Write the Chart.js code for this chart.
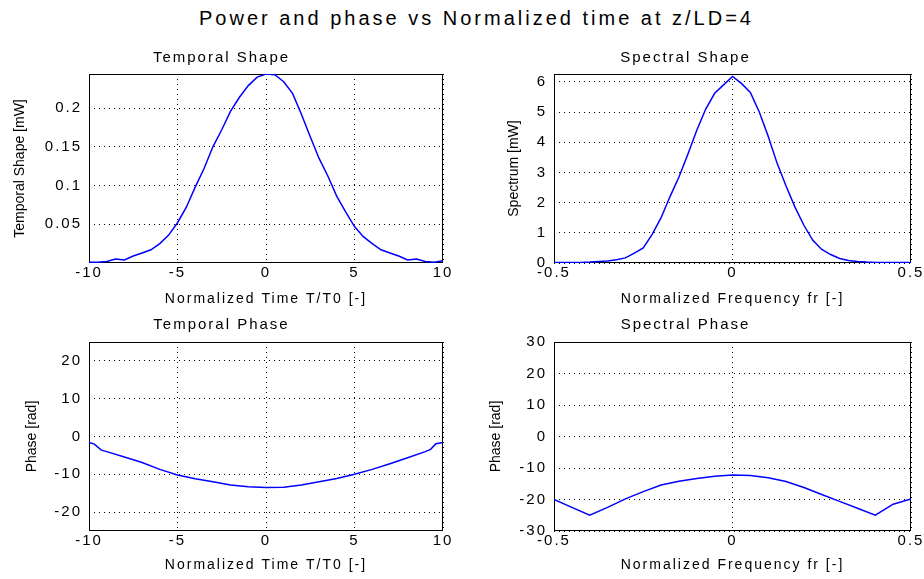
<!DOCTYPE html>
<html>
<head>
<meta charset="utf-8">
<script src="https://cdn.jsdelivr.net/npm/chart.js@4"></script>
<style>
  body { margin: 0; background: #fff; width: 924px; height: 579px; position: relative; overflow: hidden;
         font-family: "Liberation Sans", Arial, sans-serif; }
  #title { position: absolute; left: 0; top: 6px; width: 953px; text-align: center; font-size: 20px;
           line-height: 24px; letter-spacing: 3px; color: #000; }
  canvas { position: absolute; }
</style>
</head>
<body>
<div id="title">Power and phase vs Normalized time at z/LD=4</div>
<canvas id="tShape" width="460" height="270" style="left:0;top:40px"></canvas>
<canvas id="fShape" width="464" height="270" style="left:460px;top:40px"></canvas>
<canvas id="tPhase" width="460" height="269" style="left:0;top:310px"></canvas>
<canvas id="fPhase" width="464" height="269" style="left:460px;top:310px"></canvas>
<script>
const FONT = '"Liberation Sans", Arial, sans-serif';

// data
const timeAxis = [-10, -9.5, -9, -8.5, -8, -7.5, -7, -6.5, -6, -5.5, -5, -4.5, -4, -3.5, -3, -2.5, -2, -1.5, -1, -0.5,
  0, 0.5, 1, 1.5, 2, 2.5, 3, 3.5, 4, 4.5, 5, 5.5, 6, 6.5, 7, 7.5, 8, 8.5, 9, 9.5, 10];
const temporalShape = [0.001, 0.001, 0.002, 0.005, 0.004, 0.009, 0.013, 0.017, 0.025, 0.036, 0.052, 0.072, 0.098, 0.122,
  0.150, 0.172, 0.196, 0.214, 0.229, 0.240, 0.244, 0.243, 0.234, 0.219, 0.192, 0.163, 0.135, 0.112, 0.086, 0.066,
  0.047, 0.034, 0.025, 0.017, 0.013, 0.009, 0.004, 0.005, 0.002, 0.001, 0.003];

const freqAxis = [-0.5, -0.475, -0.45, -0.425, -0.4, -0.375, -0.35, -0.325, -0.3, -0.275, -0.25, -0.225, -0.2, -0.175,
  -0.15, -0.125, -0.1, -0.075, -0.05, -0.025, 0, 0.025, 0.05, 0.075, 0.1, 0.125, 0.15, 0.175, 0.2, 0.225, 0.25, 0.275,
  0.3, 0.325, 0.35, 0.375, 0.4, 0.425, 0.45, 0.475, 0.5];
const spectralShape = [0.02, 0.02, 0.02, 0.02, 0.03, 0.05, 0.07, 0.11, 0.17, 0.33, 0.50, 0.95, 1.50, 2.20, 2.85, 3.60,
  4.40, 5.10, 5.62, 5.90, 6.18, 5.95, 5.65, 5.00, 4.20, 3.30, 2.55, 1.85, 1.25, 0.75, 0.45, 0.28, 0.15, 0.08, 0.05,
  0.03, 0.02, 0.02, 0.02, 0.02, 0.02];

const phaseTimeAxis = [-10, -9.7, -9.3, -9, -8, -7, -6, -5, -4, -3, -2, -1, 0, 1, 2, 3, 4, 5, 6, 7, 8, 9, 9.3, 9.6, 10];
const temporalPhase = [-1.6, -2.0, -3.6, -4.0, -5.4, -6.9, -8.7, -10.2, -11.2, -12.0, -12.8, -13.3, -13.5, -13.4, -12.8,
  -12.0, -11.1, -10.0, -8.7, -7.2, -5.6, -4.0, -3.4, -1.9, -1.6];

const phaseFreqAxis = [-0.5, -0.45, -0.4, -0.35, -0.3, -0.25, -0.2, -0.15, -0.1, -0.05, 0, 0.05, 0.1, 0.15, 0.2, 0.25,
  0.3, 0.35, 0.4, 0.45, 0.5];
const spectralPhase = [-20, -22.5, -25, -22.5, -19.8, -17.5, -15.4, -14.2, -13.3, -12.6, -12.2, -12.4, -13.1, -14.3,
  -16.2, -18.4, -20.6, -22.8, -25, -21.5, -19.8];

// tick labels
const timeTicks = [-10, -5, 0, 5, 10];
const freqTicks = [-0.5, 0, 0.5];
const shapeTicks = [0.05, 0.1, 0.15, 0.2];
const spectrumTicks = [0, 1, 2, 3, 4, 5, 6];
const tPhaseTicks = [-20, -10, 0, 10, 20];
const fPhaseTicks = [-30, -20, -10, 0, 10, 20, 30];

// full matlab-style box around the plot area
const boxPlugin = {
  id: 'box',
  beforeDatasetsDraw(chart) {
    const {ctx, chartArea: a} = chart;
    ctx.save();
    ctx.strokeStyle = '#000';
    ctx.lineWidth = 1;
    ctx.strokeRect(Math.round(a.left) + 0.5, Math.round(a.top) + 0.5,
      Math.round(a.right - a.left) - 1, Math.round(a.bottom - a.top) - 1);
    ctx.restore();
  }
};

// the reference text is spaced out horizontally; keep the rotated y titles tight
const spacingPlugin = {
  id: 'spacing',
  beforeDraw(chart) {
    chart.ctx.letterSpacing = '2px';
    const y = chart.scales.y;
    if (!y._flatTitle) {
      const draw = y.drawTitle;
      y.drawTitle = function () {
        this.ctx.letterSpacing = '0px';
        draw.call(this);
        this.ctx.letterSpacing = '2px';
      };
      y._flatTitle = true;
    }
  }
};

function panel(id, c) {
  const grid = { color: '#000', lineWidth: 1, drawTicks: false };
  const border = { display: false, dash: [1, 4] };
  return new Chart(document.getElementById(id), {
    type: 'line',
    data: {
      datasets: [{
        data: c.x.map((v, i) => ({ x: v, y: c.y[i] })),
        borderColor: '#0000ff',
        borderWidth: 1.5,
        pointRadius: 0,
        tension: 0
      }]
    },
    options: {
      responsive: false,
      animation: false,
      layout: { padding: { left: 0, right: c.padRight, top: 0, bottom: 0 } },
      plugins: {
        legend: { display: false },
        tooltip: { enabled: false },
        title: {
          display: true, text: c.title, color: '#000',
          font: { family: FONT, size: 15, weight: 'normal' },
          padding: { top: c.titleTop, bottom: c.titleBottom }
        }
      },
      scales: {
        x: {
          type: 'linear', min: c.xTicks[0], max: c.xTicks[c.xTicks.length - 1],
          afterBuildTicks: s => { s.ticks = c.xTicks.map(v => ({ value: v })); },
          afterFit: s => { s.height = c.xHeight; s.paddingLeft = 0; s.paddingRight = 0; },
          grid, border,
          ticks: { color: '#000', padding: 1, maxRotation: 0, autoSkip: false,
                   font: { family: FONT, size: 15 }, callback: v => String(v) },
          title: { display: true, text: c.xTitle, color: '#000', font: { family: FONT, size: 14 },
                   padding: { top: 0, bottom: c.xTitleBottom } }
        },
        y: {
          min: c.yMin, max: c.yMax,
          afterBuildTicks: s => { s.ticks = c.yTicks.map(v => ({ value: v })); },
          afterFit: s => { s.width = c.yWidth; s.paddingTop = 0; s.paddingBottom = 0; },
          grid, border,
          ticks: { color: '#000', padding: 7, autoSkip: false,
                   font: { family: FONT, size: 15 }, callback: v => String(v) },
          title: { display: true, text: c.yTitle, color: '#000', font: { family: FONT, size: 14 },
                   padding: { top: c.yTitleOffset, bottom: 0 } }
        }
      }
    },
    plugins: [boxPlugin, spacingPlugin]
  });
}

panel('tShape', {
  x: timeAxis, y: temporalShape, xTicks: timeTicks, yTicks: shapeTicks, yMin: 0, yMax: 0.244,
  title: 'Temporal Shape', xTitle: 'Normalized Time T/T0 [-]', yTitle: 'Temporal Shape [mW]',
  padRight: 17, yWidth: 89, xHeight: 47, titleTop: 9, titleBottom: 7, xTitleBottom: 2, yTitleOffset: 12
});
panel('fShape', {
  x: freqAxis, y: spectralShape, xTicks: freqTicks, yTicks: spectrumTicks, yMin: 0, yMax: 6.26,
  title: 'Spectral Shape', xTitle: 'Normalized Frequency fr [-]', yTitle: 'Spectrum [mW]',
  padRight: 13, yWidth: 94, xHeight: 47, titleTop: 9, titleBottom: 7, xTitleBottom: 2, yTitleOffset: 46
});
panel('tPhase', {
  x: phaseTimeAxis, y: temporalPhase, xTicks: timeTicks, yTicks: tPhaseTicks, yMin: -25, yMax: 25,
  title: 'Temporal Phase', xTitle: 'Normalized Time T/T0 [-]', yTitle: 'Phase [rad]',
  padRight: 17, yWidth: 89, xHeight: 48, titleTop: 6, titleBottom: 8, xTitleBottom: 5, yTitleOffset: 24
});
panel('fPhase', {
  x: phaseFreqAxis, y: spectralPhase, xTicks: freqTicks, yTicks: fPhaseTicks, yMin: -30, yMax: 30,
  title: 'Spectral Phase', xTitle: 'Normalized Frequency fr [-]', yTitle: 'Phase [rad]',
  padRight: 13, yWidth: 94, xHeight: 48, titleTop: 6, titleBottom: 8, xTitleBottom: 5, yTitleOffset: 28
});
</script>
</body>
</html>
